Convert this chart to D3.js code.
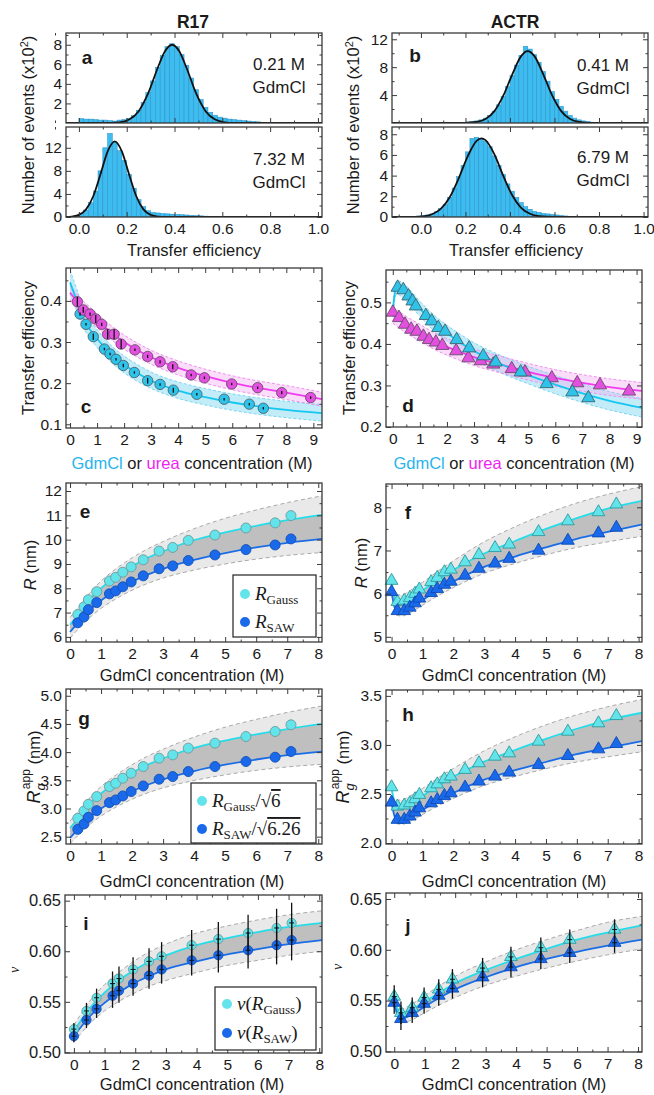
<!DOCTYPE html>
<html>
<head>
<meta charset="utf-8">
<script src="https://cdn.jsdelivr.net/npm/d3@7"></script>
<style>
  body { margin: 0; background: #fff; }
  svg text { font-family: "Liberation Sans", Arial, sans-serif; fill: #1a1a1a; }
  svg text.serif { font-family: "Liberation Serif", "DejaVu Serif", serif; }
</style>
</head>
<body>
<svg id="fig" width="654" height="1095"></svg>
<script>
// ---------- data ----------

// histograms (counts in units of 100, bins 0.02 wide)
const binWidth = 0.02;
const aTopStart = 0.0;
const aTopCounts = [0.45,0.4,0.4,0.35,0.3,0.3,0.25,0.2,0.3,0.35,0.45,0.75,1.3,2.1,3.1,4.3,5.7,6.9,7.8,8.1,7.8,7.0,5.9,4.6,3.4,2.4,1.6,1.1,0.8,0.6,0.5,0.4,0.35,0.3,0.25,0.2,0.15,0.12,0.08,0.05];
const aTopFitE = [-0.06,0.1,0.17,0.21,0.25,0.29,0.33,0.36,0.39,0.42,0.45,0.49,0.53,0.57,0.61,0.65,0.75,1.03];
const aTopFitN = [0,0,0.07,0.35,1.21,3.05,5.65,7.33,8.0,7.33,5.65,3.05,1.21,0.35,0.07,0.01,0,0];

const aBotStart = -0.02;
const aBotCounts = [0.3,0.6,1.2,2.5,4.5,8.0,12.0,14.5,13.0,11.5,9.8,7.4,5.0,3.0,1.8,1.1,0.8,0.7,0.6,0.55,0.5,0.45,0.4,0.35,0.3,0.25,0.2,0.15,0.12,0.1,0.08,0.05];
const aBotFitE = [-0.06,-0.03,0.0,0.03,0.06,0.09,0.12,0.15,0.18,0.21,0.24,0.27,0.30,0.33,0.36,0.45,1.03];
const aBotFitN = [0,0.05,0.36,1.32,3.6,7.38,11.35,13.1,11.35,7.38,3.6,1.32,0.36,0.07,0.01,0,0];

const bTopStart = 0.0;
const bTopCounts = [0.05,0.05,0.05,0.05,0.05,0.05,0.06,0.07,0.1,0.1,0.15,0.2,0.3,0.45,0.7,1.1,1.7,2.6,3.8,5.2,6.8,8.3,9.7,11.0,10.6,9.8,8.7,7.4,6.0,4.5,3.4,2.4,1.7,1.1,0.7,0.45,0.3,0.2,0.12,0.08];
const bTopFitE = [-0.14,0.15,0.2,0.25,0.29,0.33,0.37,0.41,0.45,0.479,0.51,0.55,0.59,0.63,0.67,0.71,0.76,0.85,1.03];
const bTopFitN = [0,0,0.02,0.15,0.57,1.7,3.91,6.95,9.58,10.3,9.58,6.95,3.91,1.7,0.57,0.15,0.02,0,0];

const bBotStart = -0.02;
const bBotCounts = [0.1,0.15,0.2,0.3,0.5,0.8,1.2,1.9,2.8,3.9,5.0,6.3,7.6,7.7,7.6,7.3,6.8,5.9,5.0,4.1,3.2,2.5,1.9,1.4,1.0,0.75,0.55,0.45,0.35,0.3,0.25,0.2,0.15,0.1,0.07,0.05];
const bBotFitE = [-0.14,-0.05,0.01,0.05,0.09,0.13,0.17,0.21,0.25,0.272,0.29,0.33,0.37,0.41,0.45,0.49,0.53,0.6,0.7,1.03];
const bBotFitN = [0,0.01,0.07,0.27,0.81,1.94,3.76,5.86,7.36,7.6,7.43,6.06,3.97,2.1,0.89,0.31,0.08,0.01,0,0];

// panel c : R17 transfer efficiency vs denaturant
const cGdmM   = [0.37,0.59,0.86,1.27,1.48,1.70,1.97,2.38,2.87,3.33,3.82,4.69,5.70,6.63,7.15];
const cGdmE   = [0.368,0.343,0.313,0.283,0.271,0.258,0.243,0.226,0.206,0.197,0.183,0.173,0.161,0.149,0.139];
const cGdmErr = [0.004,0.003,0.008,0.003,0.003,0.003,0.004,0.003,0.007,0.003,0.006,0.003,0.003,0.003,0.003];
const cUreaM   = [0.27,0.49,0.74,0.95,1.17,1.39,1.63,1.89,2.40,2.87,3.33,3.80,4.48,4.97,5.98,6.94,7.83,8.90];
const cUreaE   = [0.398,0.378,0.368,0.356,0.343,0.319,0.319,0.295,0.281,0.265,0.252,0.240,0.220,0.213,0.198,0.189,0.177,0.165];
const cUreaErr = [0.012,0.007,0.004,0.010,0.004,0.012,0.012,0.012,0.003,0.004,0.004,0.006,0.003,0.003,0.003,0.003,0.004,0.003];
const cFitM     = [0,0.25,0.5,0.75,1,1.5,2,2.5,3,4,5,6,7,8,9.32];
const cGdmFit   = [0.445,0.40,0.357,0.329,0.308,0.272,0.245,0.224,0.206,0.182,0.166,0.153,0.143,0.135,0.127];
const cGdmHi    = [0.475,0.428,0.38,0.35,0.33,0.293,0.266,0.245,0.227,0.203,0.187,0.174,0.164,0.156,0.148];
const cGdmLo    = [0.418,0.375,0.335,0.308,0.287,0.252,0.225,0.204,0.187,0.163,0.147,0.134,0.124,0.116,0.108];
const cUreaFit  = [0.42,0.40,0.382,0.367,0.352,0.324,0.30,0.28,0.263,0.237,0.217,0.201,0.188,0.177,0.161];
const cUreaHi   = [0.437,0.417,0.399,0.384,0.369,0.341,0.317,0.297,0.28,0.254,0.234,0.218,0.205,0.194,0.178];
const cUreaLo   = [0.403,0.383,0.365,0.35,0.335,0.307,0.283,0.263,0.246,0.22,0.2,0.184,0.171,0.16,0.144];

// panel d : ACTR transfer efficiency vs denaturant
const dGdmM = [0.18,0.39,0.58,0.73,0.85,1.22,1.44,1.68,1.93,2.36,2.82,3.34,3.80,4.72,5.68,6.63,7.22];
const dGdmE = [0.536,0.53,0.515,0.503,0.491,0.468,0.455,0.439,0.43,0.41,0.39,0.371,0.356,0.332,0.304,0.284,0.27];
const dUreaM = [0,0.23,0.45,0.68,0.89,1.13,1.34,1.59,1.83,2.34,2.79,3.25,3.71,4.39,4.88,5.87,6.81,7.65,8.72];
const dUreaE = [0.476,0.463,0.447,0.435,0.43,0.418,0.41,0.404,0.396,0.383,0.366,0.359,0.351,0.34,0.332,0.318,0.306,0.301,0.286];
const dGdmFitM = [0,0.05,0.15,0.3,0.5,0.75,1,1.5,2,2.5,3,4,5,6,7,8,9.2];
const dGdmFit  = [0.475,0.51,0.537,0.533,0.522,0.503,0.485,0.452,0.426,0.403,0.383,0.351,0.325,0.302,0.281,0.263,0.246];
const dGdmHi   = [0.485,0.525,0.552,0.55,0.54,0.521,0.503,0.471,0.445,0.423,0.403,0.372,0.346,0.324,0.303,0.285,0.268];
const dGdmLo   = [0.465,0.495,0.52,0.515,0.503,0.485,0.467,0.433,0.407,0.383,0.363,0.33,0.304,0.28,0.259,0.241,0.224];
const dUreaFitM = [0,0.5,1,1.5,2,2.5,3,4,5,6,7,8,9.2];
const dUreaFit  = [0.47,0.446,0.427,0.408,0.393,0.38,0.368,0.35,0.333,0.318,0.306,0.296,0.287];
const dUreaHi   = [0.49,0.466,0.447,0.428,0.413,0.40,0.388,0.37,0.353,0.338,0.326,0.316,0.307];
const dUreaLo   = [0.45,0.426,0.407,0.388,0.373,0.36,0.348,0.33,0.313,0.298,0.286,0.276,0.267];

// panels e, g : R17 dimensions vs GdmCl
const r17M = [0.25,0.45,0.59,0.86,1.27,1.47,1.70,1.97,2.36,2.87,3.31,3.81,4.67,5.67,6.61,7.12];
const eGaussPts = [6.92,7.24,7.53,7.86,8.30,8.45,8.66,8.88,9.17,9.53,9.68,9.97,10.19,10.48,10.69,10.99];
const eSawPts   = [6.58,6.82,7.12,7.41,7.77,7.89,8.06,8.26,8.51,8.80,8.92,9.14,9.37,9.59,9.78,10.03];
const gGaussPts = [2.826,2.956,3.075,3.211,3.389,3.448,3.537,3.626,3.744,3.892,3.951,4.07,4.159,4.277,4.366,4.485];
const gSawPts   = [2.63,2.725,2.844,2.962,3.104,3.152,3.222,3.30,3.40,3.519,3.566,3.655,3.744,3.833,3.91,4.01];
const egFitM  = [0,0.25,0.5,0.75,1,1.5,2,2.5,3,3.5,4,5,6,7,8.12];
const eGauss  = [6.5,6.9,7.3,7.7,8.0,8.48,8.9,9.25,9.52,9.77,9.98,10.3,10.57,10.8,11.02];
const eSaw    = [6.2,6.58,6.93,7.25,7.5,7.92,8.27,8.56,8.8,9.0,9.17,9.45,9.68,9.87,10.03];
const eHi     = [6.8,7.2,7.6,7.98,8.3,8.82,9.25,9.62,9.92,10.2,10.45,10.88,11.22,11.52,11.8];
const eLo     = [5.95,6.3,6.63,6.92,7.17,7.58,7.92,8.2,8.42,8.6,8.75,9.0,9.2,9.35,9.47];
const gGauss  = [2.654,2.817,2.981,3.144,3.267,3.463,3.634,3.777,3.887,3.989,4.075,4.206,4.316,4.41,4.5];
const gSaw    = [2.478,2.63,2.77,2.898,2.998,3.165,3.305,3.421,3.517,3.597,3.665,3.777,3.869,3.945,4.009];
const gHi     = [2.777,2.94,3.103,3.258,3.389,3.601,3.777,3.928,4.051,4.165,4.267,4.443,4.581,4.704,4.818];
const gLo     = [2.378,2.518,2.65,2.766,2.866,3.03,3.165,3.277,3.365,3.437,3.497,3.597,3.677,3.737,3.785];

// panels f, h : ACTR dimensions vs GdmCl
const actrM = [0,0.19,0.41,0.59,0.76,0.9,1.28,1.48,1.71,1.92,2.38,2.83,3.35,3.81,4.76,5.71,6.7,7.28];
const fGaussPts = [6.30,5.81,5.84,5.90,6.00,6.10,6.27,6.37,6.50,6.56,6.73,6.90,7.06,7.14,7.43,7.68,7.89,8.07];
const fSawPts   = [6.04,5.60,5.60,5.68,5.78,5.89,6.02,6.11,6.21,6.28,6.42,6.58,6.70,6.81,7.00,7.23,7.40,7.53];
const hGaussPts = [2.57,2.373,2.384,2.407,2.448,2.492,2.56,2.60,2.652,2.679,2.747,2.815,2.882,2.916,3.035,3.137,3.222,3.296];
const hSawPts   = [2.414,2.238,2.238,2.272,2.312,2.356,2.407,2.441,2.482,2.509,2.567,2.628,2.679,2.72,2.798,2.889,2.957,3.011];
const fhFitM  = [0,0.1,0.2,0.35,0.5,0.75,1,1.5,2,3,4,5,6,7,8.11];
const fGauss  = [6.27,5.92,5.77,5.78,5.84,5.95,6.07,6.32,6.55,6.93,7.22,7.5,7.75,7.97,8.15];
const fSaw    = [6.03,5.68,5.57,5.58,5.63,5.73,5.85,6.08,6.28,6.62,6.86,7.07,7.27,7.43,7.6];
const hGauss  = [2.56,2.417,2.356,2.36,2.385,2.43,2.479,2.581,2.675,2.83,2.948,3.062,3.165,3.254,3.328];
const hSaw    = [2.41,2.27,2.226,2.23,2.25,2.29,2.338,2.43,2.51,2.646,2.742,2.826,2.906,2.97,3.038];
const fhBandM = [0.15,0.35,0.5,0.75,1,1.5,2,3,4,5,6,7,8.11];
const fHi     = [5.97,5.97,6.03,6.14,6.26,6.52,6.76,7.2,7.55,7.85,8.1,8.3,8.48];
const fLo     = [5.5,5.48,5.52,5.62,5.73,5.95,6.14,6.47,6.7,6.9,7.07,7.2,7.33];
const hHi     = [2.438,2.438,2.462,2.507,2.556,2.662,2.76,2.94,3.083,3.205,3.307,3.389,3.463];
const hLo     = [2.198,2.19,2.206,2.246,2.29,2.378,2.454,2.586,2.678,2.758,2.826,2.878,2.93];

// panel i : R17 scaling exponent
const iM     = [0,0.41,0.74,1.26,1.47,1.93,2.45,2.86,3.84,4.71,5.68,6.61,7.1];
const iGaussPts = [0.523,0.541,0.554,0.568,0.573,0.582,0.59,0.595,0.606,0.612,0.618,0.623,0.628];
const iSawPts   = [0.516,0.532,0.543,0.556,0.561,0.568,0.576,0.582,0.591,0.596,0.601,0.606,0.611];
const iErr   = [0.006,0.008,0.009,0.012,0.012,0.012,0.013,0.014,0.015,0.017,0.018,0.019,0.02];
const iFitM  = [0,0.5,1,1.5,2,2.5,3,4,5,6,7,8.09];
const iGauss = [0.521,0.543,0.559,0.572,0.582,0.59,0.596,0.606,0.613,0.619,0.624,0.628];
const iSaw   = [0.516,0.535,0.549,0.56,0.569,0.576,0.582,0.59,0.597,0.602,0.607,0.611];
const iHi    = [0.527,0.55,0.567,0.58,0.591,0.6,0.607,0.618,0.625,0.631,0.636,0.64];
const iLo    = [0.51,0.528,0.541,0.551,0.559,0.566,0.571,0.579,0.586,0.591,0.596,0.6];

// panel j : ACTR scaling exponent
const jM     = [0,0.22,0.59,0.98,1.46,1.91,2.9,3.83,4.81,5.76,7.23];
const jGaussPts = [0.554,0.538,0.543,0.553,0.561,0.571,0.582,0.593,0.602,0.61,0.62];
const jSawPts   = [0.548,0.532,0.538,0.547,0.555,0.562,0.573,0.583,0.591,0.597,0.607];
const jErr   = [0.011,0.011,0.01,0.01,0.01,0.01,0.01,0.01,0.01,0.01,0.01];
const jFitM  = [0,0.1,0.2,0.5,1,1.5,2,3,4,5,6,7,8.13];
const jGauss = [0.553,0.542,0.537,0.54,0.549,0.558,0.567,0.58,0.591,0.601,0.61,0.617,0.624];
const jSaw   = [0.548,0.536,0.532,0.535,0.544,0.553,0.561,0.573,0.583,0.591,0.598,0.604,0.61];
const jBandM = [0.2,0.5,1,1.5,2,3,4,5,6,7,8.13];
const jHi    = [0.541,0.545,0.555,0.565,0.574,0.588,0.6,0.61,0.619,0.627,0.633];
const jLo    = [0.528,0.53,0.538,0.546,0.553,0.565,0.574,0.582,0.589,0.595,0.601];

// tick labels
const effTicks = [0, 0.2, 0.4, 0.6, 0.8, 1.0];
const concTicks9 = [0,1,2,3,4,5,6,7,8,9];
const concTicks8 = [0,1,2,3,4,5,6,7,8];

// ---------- drawing ----------
const svg = d3.select('#fig');
const FRAME = '#3a3a3a';
const CYAN = '#2fc3ea', CYAN_LINE = '#14c6f2', MAG = '#e350e0', MAG_LINE = '#f03cf0';
const LIGHT = '#63e4ea', LIGHT_LINE = '#25dde8', DARK = '#1a69ea', DARK_LINE = '#1b6de6';
let clipN = 0;

function makePanel(box, xd, yd) {
  const [x0, x1, y0, y1] = box;
  const x = d3.scaleLinear().domain(xd).range([x0, x1]);
  const y = d3.scaleLinear().domain(yd).range([y1, y0]);
  const id = 'clip' + (clipN++);
  svg.append('clipPath').attr('id', id).append('rect')
    .attr('x', x0).attr('y', y0).attr('width', x1 - x0).attr('height', y1 - y0);
  const plot = svg.append('g').attr('clip-path', `url(#${id})`);
  return { x, y, box, plot };
}

function drawAxes(p, o) {
  const [x0, x1, y0, y1] = p.box;
  const g = svg.append('g');
  const add = (axis, tx, ty, fs) => {
    const a = g.append('g').attr('transform', `translate(${tx},${ty})`).call(axis);
    a.select('.domain').remove();
    a.selectAll('line').attr('stroke', FRAME);
    a.selectAll('text').attr('font-size', fs || 15.5);
    return a;
  };
  const xf = o.xLabels ? o.xFmt : () => '';
  add(d3.axisBottom(p.x).tickValues(o.xMinor).tickSize(-2.5).tickFormat(''), 0, y1);
  add(d3.axisBottom(p.x).tickValues(o.xMajor).tickSize(-5).tickPadding(6).tickFormat(xf), 0, y1);
  add(d3.axisTop(p.x).tickValues(o.xMinor).tickSize(-2.5).tickFormat(''), 0, y0);
  add(d3.axisTop(p.x).tickValues(o.xMajor).tickSize(-5).tickFormat(''), 0, y0);
  add(d3.axisLeft(p.y).tickValues(o.yMinor).tickSize(-2.5).tickFormat(''), x0, 0);
  add(d3.axisLeft(p.y).tickValues(o.yMajor).tickSize(-5).tickPadding(4).tickFormat(o.yFmt), x0, 0, o.yfs);
  add(d3.axisRight(p.y).tickValues(o.yMinor).tickSize(-2.5).tickFormat(''), x1, 0);
  add(d3.axisRight(p.y).tickValues(o.yMajor).tickSize(-5).tickFormat(''), x1, 0);
  g.append('rect').attr('x', x0).attr('y', y0).attr('width', x1 - x0).attr('height', y1 - y0)
    .attr('fill', 'none').attr('stroke', FRAME).attr('stroke-width', 1.3);
}

function curve(p, xs, ys, color, w, dash) {
  const ln = d3.line().x((d, i) => p.x(xs[i])).y((d, i) => p.y(ys[i])).curve(d3.curveMonotoneX);
  p.plot.append('path').attr('d', ln(xs)).attr('fill', 'none')
    .attr('stroke', color).attr('stroke-width', w || 1.8)
    .attr('stroke-dasharray', dash || null);
}

function band(p, xs, lo, hi, fill, op) {
  const ar = d3.area().x((d, i) => p.x(xs[i])).y0((d, i) => p.y(lo[i])).y1((d, i) => p.y(hi[i])).curve(d3.curveMonotoneX);
  p.plot.append('path').attr('d', ar(xs)).attr('fill', fill).attr('fill-opacity', op == null ? 1 : op);
}

function hist(p, start, counts, fitE, fitN) {
  p.plot.append('g').selectAll('rect').data(counts).join('rect')
    .attr('x', (d, i) => p.x(start + i * binWidth))
    .attr('width', (d, i) => p.x(start + (i + 1) * binWidth) - p.x(start + i * binWidth))
    .attr('y', d => p.y(d))
    .attr('height', d => p.y(0) - p.y(d))
    .attr('fill', '#3dbcef').attr('stroke', '#2b8fc8').attr('stroke-width', 0.5);
  curve(p, fitE, fitN, '#111', 1.8);
}

function circles(p, xs, ys, fill, stroke, r) {
  svg.append('g').selectAll('circle').data(xs).join('circle')
    .attr('cx', d => p.x(d)).attr('cy', (d, i) => p.y(ys[i])).attr('r', r)
    .attr('fill', fill).attr('stroke', stroke).attr('stroke-width', 0.9);
}

function triangles(p, xs, ys, fill, stroke, size) {
  const sym = d3.symbol().type(d3.symbolTriangle).size(size || 70);
  svg.append('g').selectAll('path').data(xs).join('path')
    .attr('d', sym)
    .attr('transform', (d, i) => `translate(${p.x(d)},${p.y(ys[i])})`)
    .attr('fill', fill).attr('stroke', stroke).attr('stroke-width', 0.9);
}

function errorBars(p, xs, ys, err, hw) {
  const g = svg.append('g').attr('stroke', '#111').attr('stroke-width', 1.3);
  xs.forEach((m, i) => {
    g.append('line').attr('x1', p.x(m)).attr('x2', p.x(m))
      .attr('y1', p.y(ys[i] - err[i])).attr('y2', p.y(ys[i] + err[i]));
    if (hw) g.append('line').attr('x1', p.x(m) - hw).attr('x2', p.x(m) + hw)
      .attr('y1', p.y(ys[i])).attr('y2', p.y(ys[i])).attr('stroke-width', 1);
  });
}

function label(x, y, txt, o) {
  o = o || {};
  return svg.append('text').attr('x', x).attr('y', y).text(txt)
    .attr('text-anchor', o.anchor || 'middle').attr('dominant-baseline', 'central')
    .attr('font-size', o.fs || 16.5).attr('font-weight', o.bold ? 'bold' : null);
}

function vlabel(x, y, fs) {
  return svg.append('text').attr('transform', `translate(${x},${y}) rotate(-90)`)
    .attr('text-anchor', 'middle').attr('font-size', fs || 16.5);
}

// ---------- titles ----------
label(193, 22, 'R17', { bold: true, fs: 17.5 });
label(515, 22, 'ACTR', { bold: true, fs: 17.5 });

// ---------- a, b histograms ----------
const f1 = d3.format('.1f');
const histSpecs = [
  { box: [66, 322, 33, 123], xd: [-0.054, 1.017], yd: [0, 9.2], st: aTopStart, c: aTopCounts, fe: aTopFitE, fn: aTopFitN, yM: [2,4,6,8], ym: [1,3,5,7,9], lab: false },
  { box: [66, 322, 127, 217], xd: [-0.054, 1.017], yd: [0, 15.6], st: aBotStart, c: aBotCounts, fe: aBotFitE, fn: aBotFitN, yM: [0,4,8,12], ym: [2,6,10,14], lab: true },
  { box: [392, 648, 33, 123], xd: [-0.13, 1.02], yd: [0, 12.9], st: bTopStart, c: bTopCounts, fe: bTopFitE, fn: bTopFitN, yM: [4,8,12], ym: [2,6,10], lab: false },
  { box: [392, 648, 127, 217], xd: [-0.13, 1.02], yd: [0, 8.7], st: bBotStart, c: bBotCounts, fe: bBotFitE, fn: bBotFitN, yM: [0,2,4,6,8], ym: [1,3,5,7], lab: true }
];
histSpecs.forEach(s => {
  const p = makePanel(s.box, s.xd, s.yd);
  hist(p, s.st, s.c, s.fe, s.fn);
  drawAxes(p, { xMajor: effTicks, xMinor: [-0.1, 0.1, 0.3, 0.5, 0.7, 0.9], xLabels: s.lab, xFmt: f1,
    yMajor: s.yM, yMinor: s.ym, yFmt: d3.format('d') });
});
label(279, 64, '0.21 M', { fs: 17 }); label(279, 87, 'GdmCl', { fs: 17 });
label(279, 159, '7.32 M', { fs: 17 }); label(279, 182, 'GdmCl', { fs: 17 });
label(603, 65, '0.41 M', { fs: 17 }); label(603, 88, 'GdmCl', { fs: 17 });
label(603, 157, '6.79 M', { fs: 17 }); label(603, 180, 'GdmCl', { fs: 17 });
label(87, 57, 'a', { bold: true, fs: 19 });
label(415, 55, 'b', { bold: true, fs: 19 });
[34, 359].forEach(xx => {
  const t = vlabel(xx, 125, 16.5);
  t.append('tspan').text('Number of events (x10');
  t.append('tspan').attr('font-size', 11).attr('dy', -6).text('2');
  t.append('tspan').attr('dy', 6).text(')');
});
label(194, 250, 'Transfer efficiency');
label(516, 250, 'Transfer efficiency');

// ---------- c ----------
{
  const p = makePanel([66, 322, 268, 428], [-0.15, 9.32], [0.091, 0.48]);
  band(p, cFitM, cGdmLo, cGdmHi, '#8edcf2', 0.55);
  band(p, cFitM, cUreaLo, cUreaHi, '#f3b3f1', 0.45);
  curve(p, cFitM, cGdmHi, '#7fd6f0', 1, '3,2');
  curve(p, cFitM, cGdmLo, '#7fd6f0', 1, '3,2');
  curve(p, cFitM, cUreaHi, '#f08ef0', 1, '3,2');
  curve(p, cFitM, cUreaLo, '#f08ef0', 1, '3,2');
  curve(p, cFitM, cGdmFit, CYAN_LINE, 1.8);
  curve(p, cFitM, cUreaFit, MAG_LINE, 1.8);
  circles(p, cGdmM, cGdmE, CYAN, '#4a6570', 5.2);
  circles(p, cUreaM, cUreaE, MAG, '#6a4a6a', 5.2);
  errorBars(p, cGdmM, cGdmE, cGdmErr);
  errorBars(p, cUreaM, cUreaE, cUreaErr);
  drawAxes(p, { xMajor: concTicks9, xMinor: d3.range(0.5, 9.3, 1), xLabels: true, xFmt: d3.format('d'),
    yMajor: [0.1, 0.2, 0.3, 0.4], yMinor: [0.15, 0.25, 0.35, 0.45], yFmt: f1 });
  label(86, 406, 'c', { bold: true, fs: 19 });
}

// ---------- d ----------
{
  const p = makePanel([386, 642, 270, 427], [-0.25, 9.2], [0.2, 0.578]);
  band(p, dGdmFitM, dGdmLo, dGdmHi, '#8edcf2', 0.55);
  band(p, dUreaFitM, dUreaLo, dUreaHi, '#f3b3f1', 0.45);
  curve(p, dGdmFitM, dGdmHi, '#7fd6f0', 1, '3,2');
  curve(p, dGdmFitM, dGdmLo, '#7fd6f0', 1, '3,2');
  curve(p, dUreaFitM, dUreaHi, '#f08ef0', 1, '3,2');
  curve(p, dUreaFitM, dUreaLo, '#f08ef0', 1, '3,2');
  curve(p, dUreaFitM, dUreaFit, MAG_LINE, 1.8);
  curve(p, dGdmFitM, dGdmFit, CYAN_LINE, 1.8);
  triangles(p, dUreaM, dUreaE, MAG, '#6a4a6a', 75);
  triangles(p, dGdmM, dGdmE, CYAN, '#3f6570', 75);
  drawAxes(p, { xMajor: concTicks9, xMinor: d3.range(0.5, 9.2, 1), xLabels: true, xFmt: d3.format('d'),
    yMajor: [0.2, 0.3, 0.4, 0.5], yMinor: [0.25, 0.35, 0.45, 0.55], yFmt: f1 });
  label(408, 405, 'd', { bold: true, fs: 19 });
}
[34, 355].forEach(xx => { vlabel(xx, 348).text('Transfer efficiency'); });
[192, 514].forEach(cx => {
  const t = label(cx, 463, '');
  t.append('tspan').attr('fill', '#29b4ee').text('GdmCl');
  t.append('tspan').text(' or ');
  t.append('tspan').attr('fill', '#f01ef0').text('urea');
  t.append('tspan').text(' concentration (M)');
});

// shared drawing for grey-banded panels
function greyPanel(p, fitM, light, dark, bandM, lo, hi) {
  band(p, bandM, lo, hi, '#e9e9e9', 1);
  band(p, fitM, dark, light, '#bfbfbf', 1);
  curve(p, bandM, hi, '#a9a9a9', 1, '4,3');
  curve(p, bandM, lo, '#a9a9a9', 1, '4,3');
  curve(p, fitM, light, LIGHT_LINE, 1.8);
  curve(p, fitM, dark, DARK_LINE, 1.8);
}

// ---------- e ----------
{
  const p = makePanel([66, 322, 483, 642], [-0.13, 8.12], [5.79, 12.33]);
  greyPanel(p, egFitM, eGauss, eSaw, egFitM, eLo, eHi);
  circles(p, r17M, eGaussPts, LIGHT, '#6e9a9c', 5);
  circles(p, r17M, eSawPts, DARK, '#1450b4', 5);
  drawAxes(p, { xMajor: concTicks8, xMinor: d3.range(0.5, 8.1, 1), xLabels: true, xFmt: d3.format('d'),
    yMajor: [6,7,8,9,10,11,12], yMinor: d3.range(6.5, 12.4, 1), yFmt: d3.format('d') });
  label(85, 511, 'e', { bold: true, fs: 19 });
}
// ---------- f ----------
{
  const p = makePanel([386, 642, 484, 642], [-0.18, 8.11], [4.88, 8.54]);
  greyPanel(p, fhFitM, fGauss, fSaw, fhBandM, fLo, fHi);
  triangles(p, actrM, fGaussPts, LIGHT, '#2f9a9e', 70);
  triangles(p, actrM, fSawPts, DARK, '#0d4bb3', 70);
  drawAxes(p, { xMajor: concTicks8, xMinor: d3.range(0.5, 8.1, 1), xLabels: true, xFmt: d3.format('d'),
    yMajor: [5,6,7,8], yMinor: [5.5, 6.5, 7.5, 8.5], yFmt: d3.format('d') });
  label(408, 512, 'f', { bold: true, fs: 19 });
}
[[36, 565], [367, 563]].forEach(([xx, yy]) => {
  const t = vlabel(xx, yy);
  t.append('tspan').attr('font-style', 'italic').text('R');
  t.append('tspan').text('  (nm)');
});
label(192, 675, 'GdmCl concentration (M)');
label(514, 675, 'GdmCl concentration (M)');

// ---------- g ----------
{
  const p = makePanel([66, 322, 689, 844], [-0.13, 8.12], [2.37, 5.12]);
  greyPanel(p, egFitM, gGauss, gSaw, egFitM, gLo, gHi);
  circles(p, r17M, gGaussPts, LIGHT, '#6e9a9c', 5);
  circles(p, r17M, gSawPts, DARK, '#1450b4', 5);
  drawAxes(p, { xMajor: concTicks8, xMinor: d3.range(0.5, 8.1, 1), xLabels: true, xFmt: d3.format('d'),
    yMajor: [2.5, 3.0, 3.5, 4.0, 4.5, 5.0], yMinor: [2.75, 3.25, 3.75, 4.25, 4.75], yFmt: f1 });
  label(84, 718, 'g', { bold: true, fs: 19 });
}
// ---------- h ----------
{
  const p = makePanel([386, 642, 690, 844], [-0.18, 8.11], [1.99, 3.56]);
  greyPanel(p, fhFitM, hGauss, hSaw, fhBandM, hLo, hHi);
  triangles(p, actrM, hGaussPts, LIGHT, '#2f9a9e', 70);
  triangles(p, actrM, hSawPts, DARK, '#0d4bb3', 70);
  drawAxes(p, { xMajor: concTicks8, xMinor: d3.range(0.5, 8.1, 1), xLabels: true, xFmt: d3.format('d'),
    yMajor: [2.0, 2.5, 3.0, 3.5], yMinor: [2.25, 2.75, 3.25], yFmt: f1 });
  label(408, 714, 'h', { bold: true, fs: 19 });
}
[[40, 767], [349, 767]].forEach(([xx, yy]) => {
  const t = vlabel(xx, yy);
  t.append('tspan').attr('font-style', 'italic').attr('font-size', 18).text('R');
  t.append('tspan').attr('font-style', 'italic').attr('font-size', 13).attr('dy', 5).text('g');
  t.append('tspan').attr('font-size', 12).attr('dx', -6).attr('dy', -15).text('app');
  t.append('tspan').attr('dy', 10).text(' (nm)');
});
label(192, 881, 'GdmCl concentration (M)');
label(514, 881, 'GdmCl concentration (M)');

// ---------- i ----------
{
  const p = makePanel([65, 322, 895, 1053], [-0.29, 8.09], [0.4994, 0.6556]);
  greyPanel(p, iFitM, iGauss, iSaw, iFitM, iLo, iHi);
  circles(p, iM, iGaussPts, LIGHT, '#6e9a9c', 4.6);
  circles(p, iM, iSawPts, DARK, '#1450b4', 4.6);
  errorBars(p, iM, iGaussPts, iErr, 2.5);
  errorBars(p, iM, iSawPts, iErr, 2.5);
  drawAxes(p, { xMajor: concTicks8, xMinor: d3.range(0.5, 8.1, 1), xLabels: true, xFmt: d3.format('d'),
    yMajor: [0.50, 0.55, 0.60, 0.65], yMinor: [0.525, 0.575, 0.625], yFmt: d3.format('.2f'), yfs: 16.5 });
  label(86, 923, 'i', { bold: true, fs: 19 });
}
// ---------- j ----------
{
  const p = makePanel([386, 642, 893, 1052], [-0.27, 8.13], [0.4994, 0.6559]);
  greyPanel(p, jFitM, jGauss, jSaw, jBandM, jLo, jHi);
  triangles(p, jM, jGaussPts, LIGHT, '#2f9a9e', 70);
  triangles(p, jM, jSawPts, DARK, '#0d4bb3', 70);
  errorBars(p, jM, jGaussPts, jErr, 2.5);
  errorBars(p, jM, jSawPts, jErr, 2.5);
  drawAxes(p, { xMajor: concTicks8, xMinor: d3.range(0.5, 8.1, 1), xLabels: true, xFmt: d3.format('d'),
    yMajor: [0.50, 0.55, 0.60, 0.65], yMinor: [0.525, 0.575, 0.625], yFmt: d3.format('.2f'), yfs: 16.5 });
  label(408, 925, 'j', { bold: true, fs: 19 });
}
[[19, 970], [342, 967]].forEach(([xx, yy]) => {
  vlabel(xx, yy, 14).attr('class', 'serif').attr('font-style', 'italic').text('ν');
});
label(192, 1084, 'GdmCl concentration (M)');
label(514, 1084, 'GdmCl concentration (M)');

// ---------- legends ----------
function legend(x0, y0, x1, y1, items) {
  svg.append('rect').attr('x', x0).attr('y', y0).attr('width', x1 - x0).attr('height', y1 - y0)
    .attr('fill', '#fff').attr('stroke', '#222').attr('stroke-width', 1.2);
  items.forEach(it => {
    svg.append('circle').attr('cx', it.cx).attr('cy', it.cy).attr('r', 5).attr('fill', it.color);
    const t = svg.append('text').attr('class', 'serif').attr('x', it.cx + 10).attr('y', it.cy + 6).attr('font-size', 19);
    it.build(t);
  });
}
const sub = (t, s) => t.append('tspan').attr('font-size', 13).attr('dy', 4).text(s);
legend(233, 575, 316, 637, [
  { cx: 245, cy: 594, color: LIGHT, build: t => { t.append('tspan').attr('font-style', 'italic').text('R'); sub(t, 'Gauss'); } },
  { cx: 245, cy: 622, color: DARK, build: t => { t.append('tspan').attr('font-style', 'italic').text('R'); sub(t, 'SAW'); } }
]);
legend(191, 783, 316, 843, [
  { cx: 202, cy: 801, color: LIGHT, build: t => {
      t.append('tspan').attr('font-style', 'italic').text('R'); sub(t, 'Gauss');
      t.append('tspan').attr('dy', -4).text('/√');
      t.append('tspan').style('text-decoration', 'overline').text('6'); } },
  { cx: 202, cy: 829, color: DARK, build: t => {
      t.append('tspan').attr('font-style', 'italic').text('R'); sub(t, 'SAW');
      t.append('tspan').attr('dy', -4).text('/√');
      t.append('tspan').style('text-decoration', 'overline').text('6.26'); } }
]);
legend(215, 987, 316, 1050, [
  { cx: 227, cy: 1004, color: LIGHT, build: t => {
      t.append('tspan').attr('font-style', 'italic').text('ν');
      t.append('tspan').text('(');
      t.append('tspan').attr('font-style', 'italic').text('R'); sub(t, 'Gauss');
      t.append('tspan').attr('dy', -4).text(')'); } },
  { cx: 227, cy: 1033, color: DARK, build: t => {
      t.append('tspan').attr('font-style', 'italic').text('ν');
      t.append('tspan').text('(');
      t.append('tspan').attr('font-style', 'italic').text('R'); sub(t, 'SAW');
      t.append('tspan').attr('dy', -4).text(')'); } }
]);
</script>
</body>
</html>
